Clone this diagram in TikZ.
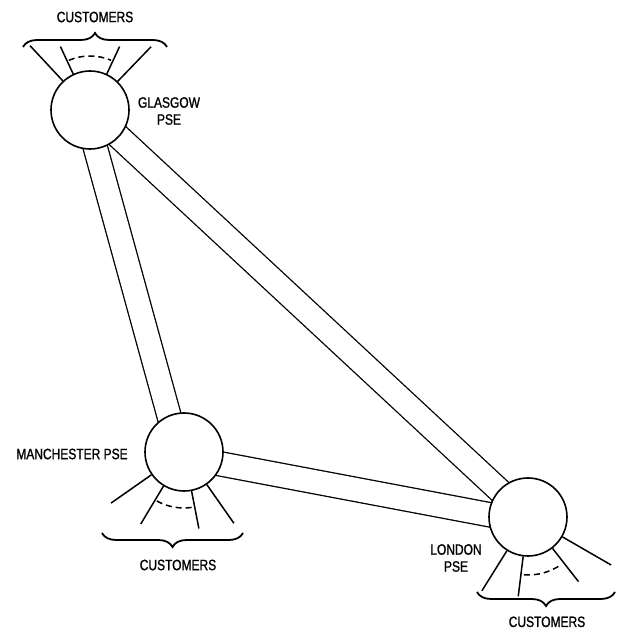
\documentclass[tikz,border=0pt]{standalone}
\usepackage{fontspec}
\setmainfont{Liberation Sans}[FakeStretch=0.8,FakeBold=1.2]
\usetikzlibrary{decorations.pathreplacing,backgrounds}

\tikzset{
  pse/.style={circle,draw,fill=white,line width=1.6pt,minimum size=78pt,inner sep=0pt},
  trunk/.style={line width=1.3pt,double=white,double distance=23pt},
  spoke/.style={line width=1.5pt},
  lbl/.style={font=\fontsize{15}{17}\selectfont,align=center,inner sep=0pt},
  custbrace/.style={decorate,decoration={brace,amplitude=14pt},line width=1.8pt},
}

\begin{document}
\begin{tikzpicture}[x=1pt,y=1pt]
    \useasboundingbox (0,0) rectangle (619,630);
    \node[pse] (glasgow) at (90,520) {};
    \node[pse] (manchester) at (184,178) {};
    \node[pse] (london) at (528,113) {};
    \begin{scope}[on background layer]
        \draw[trunk] ([xshift=-5pt]glasgow.center) -- ([xshift=-5pt]manchester.center);
        \draw[trunk] (glasgow.center) -- (london.center);
        \draw[trunk] ([yshift=-5pt]manchester.center) -- ([yshift=-5pt]london.center);
    \end{scope}
    \foreach \a/\l in {133/88,115/70,65/70,46/88}
        \draw[spoke] (glasgow.\a) -- ([shift={(\a:\l)}]glasgow.center);
    \foreach \a/\l in {215/89,239/84,281/78,305/87}
        \draw[spoke] (manchester.\a) -- ([shift={(\a:\l)}]manchester.center);
    \foreach \a/\l in {238/87,263/80,308/82,330/96}
        \draw[spoke] (london.\a) -- ([shift={(\a:\l)}]london.center);
    \draw[spoke,dash pattern=on 6pt off 4pt] ([shift={(113:54)}]glasgow.center) arc[start angle=113,end angle=67,radius=54];
    \draw[spoke,dash pattern=on 6pt off 4pt] ([shift={(241:56)}]manchester.center) arc[start angle=241,end angle=281,radius=56];
    \draw[spoke,dash pattern=on 6pt off 4pt] ([shift={(266:58)}]london.center) arc[start angle=266,end angle=305,radius=58];
    \draw[custbrace] (23,583) -- (167,583);
    \draw[custbrace,decoration={mirror}] (102,97) -- (243,97);
    \draw[custbrace,decoration={mirror}] (477,38) -- (615,38);
    \node[lbl] (custg) at (95,613) {CUSTOMERS};
    \node[lbl] (custm) at (178,65) {CUSTOMERS};
    \node[lbl,anchor=base] (custl) at (547,3) {CUSTOMERS};
    \node[lbl] (lglasgow) at (169,519) {GLASGOW\\PSE};
    \node[lbl] (lmanchester) at (72,176) {MANCHESTER PSE};
    \node[lbl] (llondon) at (456,72) {LONDON\\PSE};
\end{tikzpicture}
\end{document}
